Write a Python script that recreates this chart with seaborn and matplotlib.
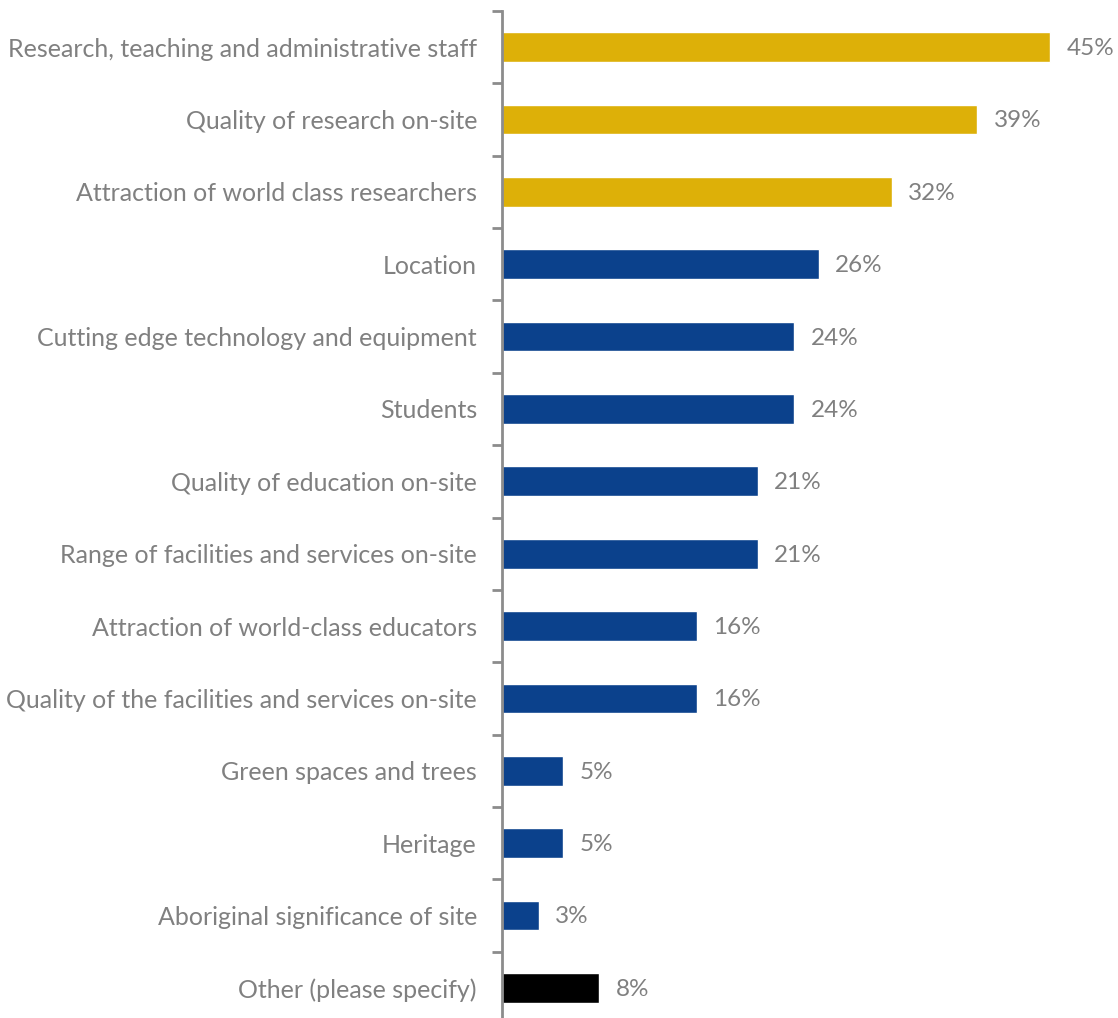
import matplotlib
matplotlib.use("Agg")
import matplotlib.pyplot as plt
import seaborn as sns
import pandas as pd
from matplotlib.ticker import FixedLocator

categories = [
    "Research, teaching and administrative staff",
    "Quality of research on-site",
    "Attraction of world class researchers",
    "Location",
    "Cutting edge technology and equipment",
    "Students",
    "Quality of education on-site",
    "Range of facilities and services on-site",
    "Attraction of world-class educators",
    "Quality of the facilities and services on-site",
    "Green spaces and trees",
    "Heritage",
    "Aboriginal significance of site",
    "Other (please specify)",
]
values = [45, 39, 32, 26, 24, 24, 21, 21, 16, 16, 5, 5, 3, 8]
groups = ["top"] * 3 + ["rest"] * 10 + ["other"]

GOLD = "#DDB008"
BLUE = "#0B418C"
BLACK = "#000000"
TEXT = "#808080"
AXIS = "#8C8C8C"

df = pd.DataFrame({"category": categories, "value": values, "group": groups})

sns.set_theme(style="white")
plt.rcParams["font.family"] = ["Lato", "DejaVu Sans"]

W, H = 1118, 1018
fig = plt.figure(figsize=(W / 100, H / 100), dpi=100)
left, right = 502, 1111
top, bottom = 11, 1024
ax = fig.add_axes([left / W, 1 - bottom / H, (right - left) / W, (bottom - top) / H])

sns.barplot(
    data=df, x="value", y="category", hue="group",
    palette={"top": GOLD, "rest": BLUE, "other": BLACK},
    dodge=False, width=0.41, legend=False, ax=ax, saturation=1,
)

ax.set_xlim(0, 50)
ax.set_ylim(len(categories) - 0.5, -0.5)

for i, v in enumerate(values):
    ax.text(v + 1.35, i + 0.02, f"{v}%", va="center", ha="left", fontsize=17.5, color=TEXT)

ax.set_xlabel("")
ax.set_ylabel("")
ax.set_xticks([])
for s in ["top", "right", "bottom"]:
    ax.spines[s].set_visible(False)
ax.spines["left"].set_color(AXIS)
ax.spines["left"].set_linewidth(2)

ax.yaxis.set_minor_locator(FixedLocator([i - 0.5 for i in range(len(categories) + 1)]))
ax.tick_params(axis="y", which="major", length=0, pad=18, labelsize=18, labelcolor=TEXT)
ax.tick_params(axis="y", which="minor", length=7, width=2, color=AXIS, left=True)

fig.savefig("out.png", dpi=100)
